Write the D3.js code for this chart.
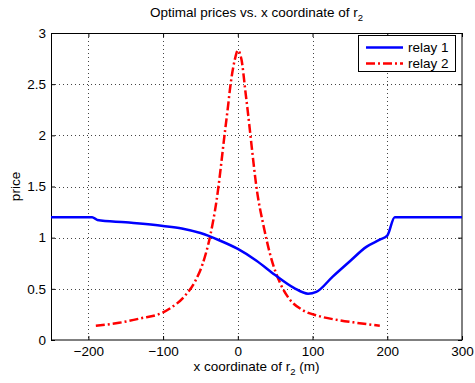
<!DOCTYPE html>
<html>
<head>
<meta charset="utf-8">
<script src="https://cdn.jsdelivr.net/npm/d3@7"></script>
<style>
  body { margin: 0; background: #fff; }
  text { font-family: "Liberation Sans", Arial, sans-serif; fill: #000; }
</style>
</head>
<body>
<div id="chart"></div>
<script>
// data
var relay1X = [-250, -195, -188, -150, -100, -75, -50, -25, 0, 25, 50, 75, 94, 105, 127, 150, 172, 190, 200, 210, 300];
var relay1Y = [1.2, 1.2, 1.173, 1.15, 1.115, 1.09, 1.045, 0.975, 0.89, 0.775, 0.635, 0.51, 0.453, 0.47, 0.62, 0.77, 0.91, 0.98, 1.02, 1.2, 1.2];

var relay2X = [-190, -159, -131, -100, -91, -71, -57, -47, -37.5, -28.5, -17, -13, -10.7, -4, 0, 4.9, 10.3, 13.4, 16, 26, 34, 45, 57, 68, 86, 108, 134, 159, 190];
var relay2Y = [0.14, 0.168, 0.21, 0.27, 0.308, 0.43, 0.575, 0.745, 1.0, 1.36, 2.05, 2.29, 2.44, 2.74, 2.83, 2.74, 2.42, 2.23, 2.06, 1.44, 1.13, 0.79, 0.55, 0.41, 0.295, 0.235, 0.195, 0.168, 0.14];

var xTicks = [-200, -100, 0, 100, 200, 300];
var yTicks = [0, 0.5, 1, 1.5, 2, 2.5, 3];
var seriesNames = ["relay 1", "relay 2"];

var width = 475, height = 383;
var margin = {top: 33, right: 13, bottom: 43, left: 51};
var plotW = width - margin.left - margin.right;
var plotH = height - margin.top - margin.bottom;
var fontSize = "13.5px";

var svg = d3.select("#chart").append("svg")
    .attr("width", width)
    .attr("height", height);

var g = svg.append("g")
    .attr("transform", "translate(" + margin.left + "," + margin.top + ")");

var x = d3.scaleLinear().domain([-250, 300]).range([0, plotW]);
var y = d3.scaleLinear().domain([0, 3]).range([plotH, 0]);

// dotted grid
g.selectAll(".gx").data(xTicks.filter(function(d){ return d < 300; }))
  .enter().append("line")
    .attr("x1", function(d){ return Math.round(x(d)) + 0.5; })
    .attr("x2", function(d){ return Math.round(x(d)) + 0.5; })
    .attr("y1", 0).attr("y2", plotH)
    .attr("stroke", "#444").attr("stroke-width", 1)
    .attr("stroke-dasharray", "1,3");
g.selectAll(".gy").data(yTicks.filter(function(d){ return d > 0 && d < 3; }))
  .enter().append("line")
    .attr("y1", function(d){ return Math.round(y(d)) + 0.5; })
    .attr("y2", function(d){ return Math.round(y(d)) + 0.5; })
    .attr("x1", 0).attr("x2", plotW)
    .attr("stroke", "#444").attr("stroke-width", 1)
    .attr("stroke-dasharray", "1,3");

// axes, matlab style ticks pointing inward
var xAxis = g.append("g")
    .attr("transform", "translate(0," + plotH + ")")
    .call(d3.axisBottom(x).tickValues(xTicks).tickSize(-4).tickPadding(6));
var xTop = g.append("g")
    .call(d3.axisTop(x).tickValues(xTicks).tickSize(-4).tickFormat(""));
var yAxis = g.append("g")
    .call(d3.axisLeft(y).tickValues(yTicks).tickSize(-4).tickPadding(5).tickFormat(d3.format("")));
var yRight = g.append("g")
    .attr("transform", "translate(" + plotW + ",0)")
    .call(d3.axisRight(y).tickValues(yTicks).tickSize(-4).tickFormat(""));

[xAxis, xTop, yAxis, yRight].forEach(function(a){
  a.select(".domain").remove();
  a.selectAll("line").attr("stroke", "#000");
  a.selectAll("text").style("font-size", fontSize).style("font-family", "Liberation Sans, Arial, sans-serif");
});

// frame
g.append("rect")
    .attr("x", 0.5).attr("y", 0.5)
    .attr("width", plotW - 0.5).attr("height", plotH - 0.5)
    .attr("fill", "none").attr("stroke", "#000").attr("stroke-width", 1);

var line = d3.line()
    .x(function(d){ return x(d[0]); })
    .y(function(d){ return y(d[1]); })
    .curve(d3.curveMonotoneX);

g.append("path")
    .datum(d3.zip(relay2X, relay2Y))
    .attr("d", line)
    .attr("fill", "none")
    .attr("stroke", "#ff0000")
    .attr("stroke-width", 2.5)
    .attr("stroke-dasharray", "9,3,2,3");

g.append("path")
    .datum(d3.zip(relay1X, relay1Y))
    .attr("d", line)
    .attr("fill", "none")
    .attr("stroke", "#0000ff")
    .attr("stroke-width", 2.5);

// title
var title = svg.append("text")
    .attr("x", margin.left + plotW / 2)
    .attr("y", 17)
    .attr("text-anchor", "middle")
    .style("font-size", fontSize);
title.append("tspan").text("Optimal prices vs. x coordinate of r");
title.append("tspan").attr("dy", 4).style("font-size", "9.5px").text("2");

// x label
var xl = svg.append("text")
    .attr("x", margin.left + plotW / 2)
    .attr("y", 371)
    .attr("text-anchor", "middle")
    .style("font-size", fontSize);
xl.append("tspan").text("x coordinate of r");
xl.append("tspan").attr("dy", 4).style("font-size", "9.5px").text("2");
xl.append("tspan").attr("dy", -4).text(" (m)");

// y label
svg.append("text")
    .attr("transform", "translate(20," + (margin.top + plotH / 2) + ") rotate(-90)")
    .attr("text-anchor", "middle")
    .style("font-size", fontSize)
    .text("price");

// legend
var leg = svg.append("g").attr("transform", "translate(358,35)");
leg.append("rect")
    .attr("x", 0.5).attr("y", 0.5)
    .attr("width", 97).attr("height", 36)
    .attr("fill", "#fff").attr("stroke", "#000");
var rows = leg.selectAll(".row").data(seriesNames).enter().append("g")
    .attr("transform", function(d, i){ return "translate(0," + (12.5 + i * 16) + ")"; });
rows.append("line")
    .attr("x1", 8).attr("x2", 45).attr("y1", 0).attr("y2", 0)
    .attr("stroke", function(d, i){ return i === 0 ? "#0000ff" : "#ff0000"; })
    .attr("stroke-width", 2.5)
    .attr("stroke-dasharray", function(d, i){ return i === 0 ? null : "9,3,2,3"; });
rows.append("text")
    .attr("x", 50).attr("dy", "0.35em")
    .style("font-size", fontSize)
    .text(function(d){ return d; });
</script>
</body>
</html>
